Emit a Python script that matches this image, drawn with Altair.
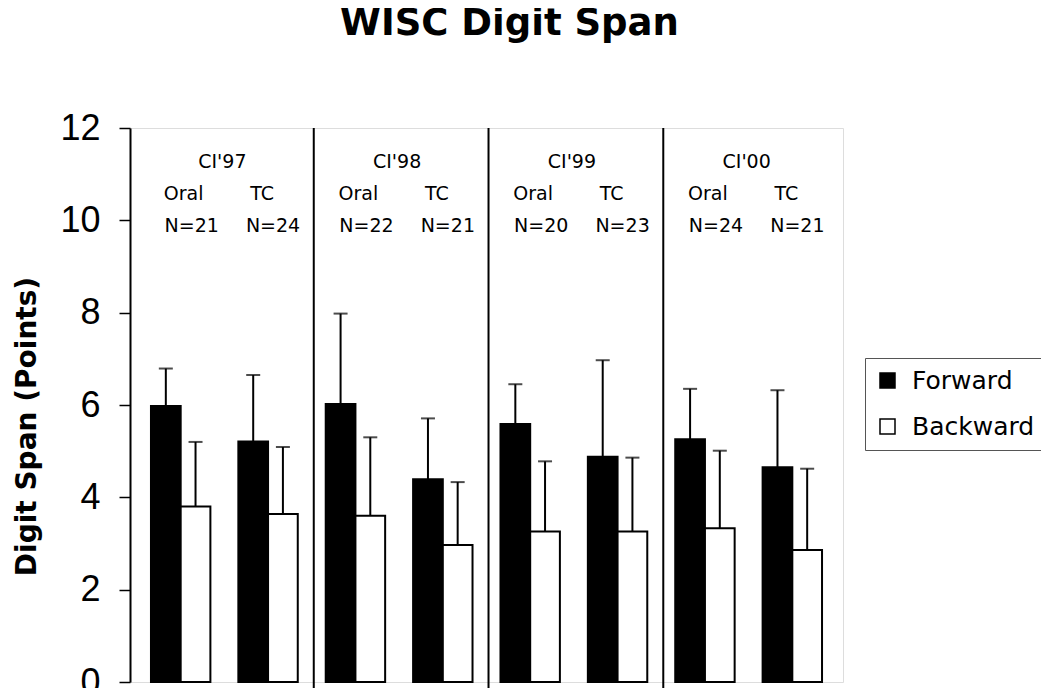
import altair as alt
import pandas as pd

# ---- data ----
years = ["CI'97", "CI'98", "CI'99", "CI'00"]
modes = ["Oral", "TC"]
n_sizes = [21, 24, 22, 21, 20, 23, 24, 21]
forward_mean = [5.98, 5.21, 6.02, 4.39, 5.59, 4.88, 5.26, 4.65]
forward_sd = [0.81, 1.44, 1.96, 1.32, 0.86, 2.09, 1.09, 1.67]
backward_mean = [3.80, 3.64, 3.60, 2.97, 3.26, 3.26, 3.33, 2.86]
backward_sd = [1.40, 1.45, 1.70, 1.36, 1.52, 1.60, 1.68, 1.76]
series = ["Forward", "Backward"]
y_ticks = [0, 2, 4, 6, 8, 10, 12]

groups = [f"{m} {y}" for y in years for m in modes]

rows = []
for i, g in enumerate(groups):
    for s, means, sds in (("Forward", forward_mean, forward_sd),
                          ("Backward", backward_mean, backward_sd)):
        rows.append({"group": g, "series": s, "mean": means[i],
                     "top": round(means[i] + sds[i], 2)})
bars_df = pd.DataFrame(rows)

labels_df = pd.DataFrame({
    "group": groups,
    "mode": [m for y in years for m in modes],
    "n": [f"N={n}" for n in n_sizes],
})
years_df = pd.DataFrame({"group": [f"Oral {y}" for y in years], "year": years})
div_df = pd.DataFrame({"group": [f"TC {y}" for y in years[:-1]]})

# ---- scales ----
xscale = alt.Scale(domain=groups, paddingInner=0.32, paddingOuter=0.24)
yscale = alt.Scale(domain=[0, 12], nice=False, zero=True)
offscale = alt.Scale(domain=series, paddingInner=0, paddingOuter=0)

x_main = alt.X("group:N", scale=xscale, sort=groups,
               axis=alt.Axis(labels=False, ticks=False, title=None,
                             domainColor="black", domainWidth=2))
x_plain = alt.X("group:N", scale=xscale, sort=groups, axis=None)
x_end = alt.X("group:N", scale=xscale, sort=groups, axis=None, bandPosition=1)
xoff = alt.XOffset("series:N", scale=offscale, sort=series)

bars = alt.Chart(bars_df).mark_bar(stroke="black", strokeWidth=2).encode(
    x=x_main,
    xOffset=xoff,
    y=alt.Y("mean:Q", scale=yscale, stack=None,
            axis=alt.Axis(values=y_ticks, title="Digit Span (Points)",
                          titleFont="DejaVu Sans", titleFontSize=28,
                          titleFontWeight="bold", titleColor="black",
                          titleAngle=270, titleX=-95, titleY=298,
                          titleBaseline="alphabetic", titleAlign="center",
                          labelFont="Liberation Sans", labelFontSize=36,
                          labelColor="black", labelPadding=19,
                          tickSize=11, tickColor="black", tickWidth=1.5,
                          domainColor="black", domainWidth=2, grid=False)),
    fill=alt.Fill("series:N", sort=series,
                  scale=alt.Scale(domain=series, range=["black", "white"]),
                  legend=alt.Legend(orient="none", legendX=735, legendY=230,
                                    title=None, symbolType="square",
                                    symbolSize=225, symbolStrokeColor="black",
                                    symbolStrokeWidth=1.5,
                                    labelFont="DejaVu Sans", labelFontSize=25,
                                    labelColor="black", labelOffset=12,
                                    rowPadding=20, padding=10,
                                    strokeColor="#555")),
)

err = alt.Chart(bars_df).mark_rule(color="black", strokeWidth=2).encode(
    x=x_plain, xOffset=xoff,
    y=alt.Y("mean:Q", scale=yscale), y2="top:Q",
)
caps = alt.Chart(bars_df).mark_tick(color="black", orient="horizontal",
                                    size=14, thickness=2).encode(
    x=x_plain, xOffset=xoff,
    y=alt.Y("top:Q", scale=yscale),
)

dividers = alt.Chart(div_df).mark_rule(color="black", strokeWidth=2, xOffset=16).encode(
    x=x_end, y=alt.datum(12), y2=alt.datum(-0.15),
)

TXT = dict(font="DejaVu Sans", fontSize=19, baseline="middle", color="black")

year_text = alt.Chart(years_df).mark_text(dx=12, **TXT).encode(
    x=x_end, y=alt.datum(11.26), text="year:N")


def mode_layer(mode, dx_mode, dx_n):
    base = alt.Chart(labels_df).transform_filter(alt.datum.mode == mode)
    m = base.mark_text(dx=dx_mode, **TXT).encode(
        x=x_plain, y=alt.datum(10.57), text="mode:N")
    n = base.mark_text(dx=dx_n, **TXT).encode(
        x=x_plain, y=alt.datum(9.88), text="n:N")
    return [m, n]


text_layers = mode_layer("Oral", 3, 11) + mode_layer("TC", -6, 5)

chart = alt.layer(err, bars, caps, dividers, year_text, *text_layers).properties(
    width=713, height=554,
    title=alt.Title("WISC Digit Span", font="DejaVu Sans", fontSize=37,
                    fontWeight="bold", color="black", anchor="middle",
                    dx=23, offset=38, baseline="alphabetic"),
    padding={"left": 122, "top": 120, "right": 198, "bottom": 6},
    autosize=alt.AutoSizeParams(type="none"),
).configure_view(
    stroke="#555", strokeDash=[2, 2], strokeWidth=1
).configure_legend(
    strokeDash=[5, 3], strokeWidth=1
).configure(font="Liberation Sans")

chart.save("out.html", embed_options={"renderer": "svg", "actions": False})
